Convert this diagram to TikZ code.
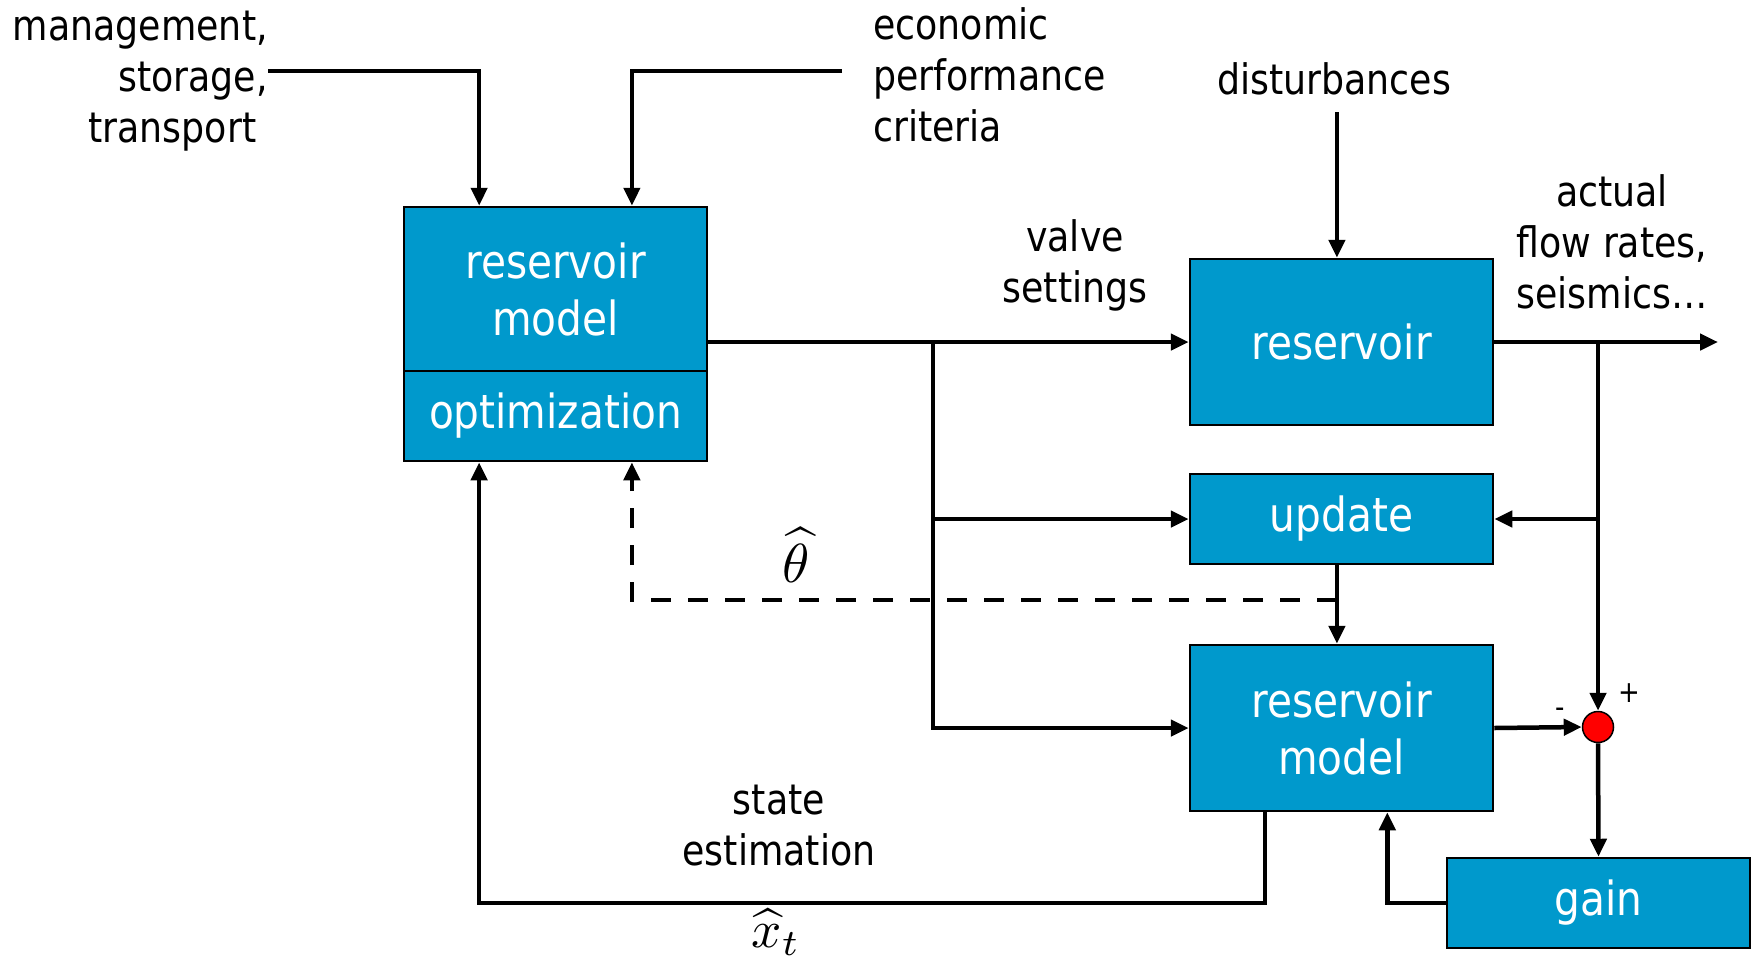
\documentclass[tikz,border=0pt]{standalone}
\usepackage{fontspec}
\setmainfont{DejaVu Sans}[FakeStretch=0.865]
\usepackage{amsmath}
\usetikzlibrary{arrows.meta,calc}
\definecolor{boxblue}{RGB}{0,153,204}
\tikzset{
  blk/.style={draw=black, line width=2.5pt, fill=boxblue, text=white,
    font=\fontsize{47}{57}\selectfont, align=center, minimum width=303pt, inner sep=0pt},
  lbl/.style={font=\fontsize{42}{51}\selectfont, inner sep=0pt},
  wire/.style={line width=4.5pt},
  arr/.style={wire, -{Triangle[length=18pt,width=16pt]}},
  dashwire/.style={line width=4.5pt, dash pattern=on 20pt off 17pt, -{Triangle[length=18pt,width=16pt]}},
  sign/.style={font=\fontsize{30}{30}\selectfont, inner sep=0pt},
}
\begin{document}
\begin{tikzpicture}[x=1pt,y=-1pt]
\useasboundingbox (0,0) rectangle (1756,962);

% blocks
\node[blk, minimum height=164pt] (rm) at (555.5,289) {reservoir\\model};
\node[blk, minimum height=90pt] (opt) at (555.5,416) {optimization};
\node[blk, minimum height=166pt] (res) at (1341.5,342) {reservoir};
\node[blk, minimum height=90pt] (upd) at (1341.5,519) {update};
\node[blk, minimum height=166pt] (mdl) at (1341.5,728) {reservoir\\model};
\node[blk, minimum height=90pt] (gain) at (1598.5,903) {gain};
\node[circle, draw=black, fill=red, line width=1.5pt, minimum size=31pt, inner sep=0pt] (sum) at (1598,727) {};

% labels
\node[lbl, align=right, anchor=east] (mgmt) at (268,81) {management,\\storage,\\transport\hphantom{,}};
\node[lbl, align=left, anchor=west] (econ) at (873,75) {economic\\performance\\criteria};
\node[lbl] (dist) at (1334,79) {disturbances};
\node[lbl, align=center] (valve) at (1075,265) {valve\\settings};
\node[lbl, align=center] (actual) at (1612,242) {actual\\flow rates,\\seismics…};
\node[lbl, align=center] (state) at (779,826) {state\\estimation};
\node[inner sep=0pt] (theta) at (796,555) {\scalebox{5.5}{$\widehat{\theta}$}};
\node[inner sep=0pt] (xt) at (776,932) {\scalebox{5.3}{$\widehat{x}_t$}};
\node[sign] (plus) at (1629,693) {+};
\node[sign] (minus) at (1560,713) {-};

% attachment points
\coordinate (a1) at ($(rm.north west)!0.25!(rm.north east)$);
\coordinate (a2) at ($(rm.north west)!0.75!(rm.north east)$);
\coordinate (b1) at ($(opt.south west)!0.25!(opt.south east)$);
\coordinate (b2) at ($(opt.south west)!0.75!(opt.south east)$);
\coordinate (r1) at ($(res.north west)!0.485!(res.north east)$);
\coordinate (u1) at ($(upd.south west)!0.485!(upd.south east)$);
\coordinate (u2) at ($(mdl.north west)!0.485!(mdl.north east)$);
\coordinate (m1) at ($(mdl.south west)!0.25!(mdl.south east)$);
\coordinate (g1) at ($(mdl.south west)!0.65!(mdl.south east)$);
\coordinate (inMgmt) at (268,71);
\coordinate (inEcon) at (842,71);
\coordinate (inDist) at (r1 |- 0,112);
\coordinate (vb) at (933,342);
\coordinate (ob) at (sum.north |- res.west);
\coordinate (out) at (1718,342);
\coordinate (dj) at (u1 |- 0,600);

% connectors
\draw[arr] (inMgmt) -| (a1);
\draw[arr] (inEcon) -| (a2);
\draw[arr] (inDist) -- (r1);
\draw[arr] (rm.east |- res.west) -- (res.west);
\draw[arr] (vb) |- (upd.west);
\draw[arr] (vb) |- (mdl.west);
\draw[arr] (res.east) -- (out);
\draw[arr] (ob) |- (upd.east);
\draw[arr] (ob) -- (sum.north);
\draw[arr] (mdl.east) -- (sum.west);
\draw[arr] (sum.south) -- (gain.north);
\draw[arr] (gain.west) -| (g1);
\draw[arr] (u1) -- (u2);
\draw[arr] (m1) |- (b1 |- gain.west) -- (b1);
\draw[dashwire] (dj) -| (b2);
\end{tikzpicture}
\end{document}
